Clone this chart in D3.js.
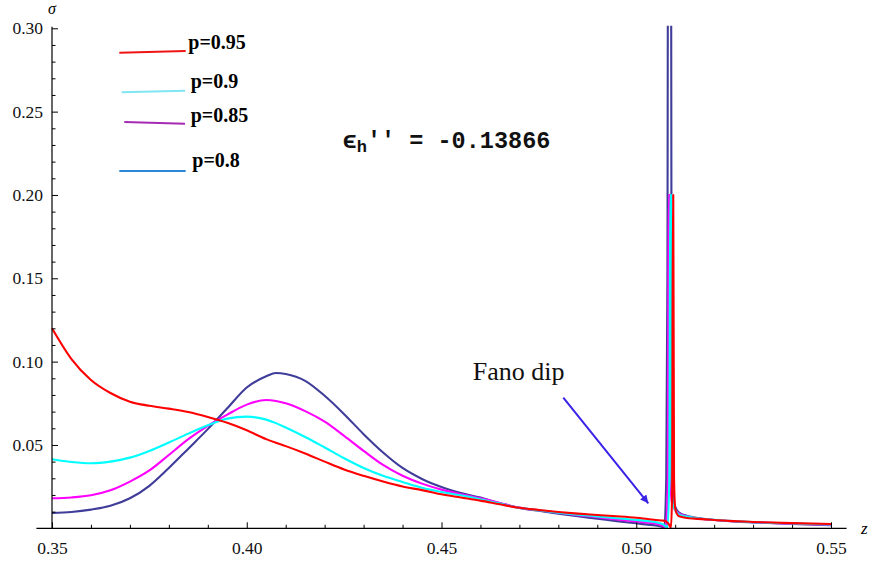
<!DOCTYPE html>
<html>
<head>
<meta charset="utf-8">
<script src="https://cdn.jsdelivr.net/npm/d3@7/dist/d3.min.js"></script>
<style>
  html, body { margin: 0; padding: 0; background: #fff; }
  svg { display: block; }
  .serif-tick text { font-family: "Liberation Serif", "Times New Roman", serif !important; font-size: 17.5px !important; fill: #111; }
</style>
</head>
<body>
<svg id="chart" width="870" height="565"></svg>
<script>
// Photon energy grid (smooth part before the resonance)
const zMain = [0.350, 0.355, 0.360, 0.365, 0.370, 0.375, 0.380, 0.385, 0.390, 0.395,
               0.400, 0.405, 0.4075, 0.410, 0.415, 0.420, 0.425, 0.430, 0.435, 0.440, 0.445,
               0.450, 0.455, 0.460, 0.465, 0.470, 0.475, 0.480, 0.485, 0.490, 0.495,
               0.500, 0.503, 0.505];
// Energy grid after the resonance
const zTail = [0.513, 0.515, 0.520, 0.525, 0.530, 0.540, 0.550];

// Cross section, smooth part
const sigmaMain_p95 = [0.1200, 0.1015, 0.0890, 0.0812, 0.0760, 0.0735, 0.0718, 0.0698, 0.0668, 0.0633,
                       0.0588, 0.0535, 0.0513, 0.0493, 0.0449, 0.0400, 0.0353, 0.0315, 0.0281, 0.0251, 0.0229,
                       0.0204, 0.0185, 0.0166, 0.0144, 0.0123, 0.0110, 0.0098, 0.0088, 0.0080, 0.0072,
                       0.0063, 0.0056, 0.0050];
const sigmaMain_p90 = [0.0414, 0.0398, 0.0390, 0.0400, 0.0424, 0.0464, 0.0515, 0.0568, 0.0618, 0.0658,
                       0.0670, 0.0652, 0.0631, 0.0605, 0.0548, 0.0485, 0.0420, 0.0362, 0.0315, 0.0278, 0.0243,
                       0.0218, 0.0198, 0.0174, 0.0148, 0.0123, 0.0108, 0.0094, 0.0082, 0.0071, 0.0060,
                       0.0050, 0.0043, 0.0037];
const sigmaMain_p85 = [0.0180, 0.0185, 0.0198, 0.0228, 0.0280, 0.0347, 0.0440, 0.0535, 0.0615, 0.0682,
                       0.0742, 0.0770, 0.0764, 0.0750, 0.0703, 0.0640, 0.0555, 0.0465, 0.0380, 0.0315, 0.0268,
                       0.0232, 0.0204, 0.0180, 0.0152, 0.0124, 0.0108, 0.0093, 0.0079, 0.0066, 0.0053,
                       0.0041, 0.0033, 0.0027];
const sigmaMain_p80 = [0.0092, 0.0098, 0.0112, 0.0135, 0.0180, 0.0255, 0.0362, 0.0478, 0.0595, 0.0720,
                       0.0845, 0.0912, 0.0932, 0.0926, 0.0885, 0.0795, 0.0685, 0.0565, 0.0455, 0.0362, 0.0296,
                       0.0248, 0.0212, 0.0184, 0.0150, 0.0122, 0.0105, 0.0088, 0.0072, 0.0058, 0.0043,
                       0.0030, 0.0022, 0.0017];

// Fano resonance (dip followed by the sharp peak)
const zRes_p95 = [0.5070, 0.5080, 0.5086, 0.5089, 0.5092, 0.5094, 0.5095, 0.5097, 0.5100, 0.5105, 0.5110];
const sigmaRes_p95 = [0.0046, 0.0035, 0.0015, 0.0002, 0.0200, 0.2000, 0.2000, 0.0300, 0.0120, 0.0085, 0.0072];
const zRes_p90 = [0.5070, 0.5080, 0.5085, 0.5087, 0.5089, 0.5091, 0.5094, 0.5100, 0.5110];
const sigmaRes_p90 = [0.0022, 0.0003, 0.0300, 0.2000, 0.2000, 0.0300, 0.0140, 0.0110, 0.0082];
const zRes_p85 = [0.5068, 0.5076, 0.5081, 0.5083, 0.5086, 0.5088, 0.5091, 0.5097, 0.5110];
const sigmaRes_p85 = [0.0015, 0.0002, 0.0300, 0.2000, 0.2000, 0.0300, 0.0160, 0.0120, 0.0088];
const zRes_p80 = [0.5065, 0.5072, 0.5077, 0.5080, 0.5083, 0.5088, 0.50905, 0.5092, 0.5095, 0.5100, 0.5110];
const sigmaRes_p80 = [0.0010, 0.0001, 0.0300, 0.1500, 0.6000, 0.6000, 0.1500, 0.0300, 0.0180, 0.0130, 0.0095];

// Cross section after the resonance
const sigmaTail_p95 = [0.0062, 0.0058, 0.0050, 0.0043, 0.0038, 0.0031, 0.0026];
const sigmaTail_p90 = [0.0070, 0.0062, 0.0051, 0.0043, 0.0037, 0.0029, 0.0023];
const sigmaTail_p85 = [0.0072, 0.0062, 0.0050, 0.0042, 0.0036, 0.0028, 0.0021];
const sigmaTail_p80 = [0.0075, 0.0064, 0.0050, 0.0041, 0.0035, 0.0026, 0.0019];

const seriesLabels = ["p=0.95", "p=0.9", "p=0.85", "p=0.8"];
const curveColors  = ["#ff0000", "#00ffff", "#ff00ff", "#3f3d99"];
const legendColors = ["#ee1414", "#7fe6f2", "#a42ab4", "#2a86d8"];

const xMajorTicks = [0.35, 0.40, 0.45, 0.50, 0.55];
const xTickLabels = ["0.35", "0.40", "0.45", "0.50", "0.55"];
const yMajorTicks = [0.05, 0.10, 0.15, 0.20, 0.25, 0.30];
const yTickLabels = ["0.05", "0.10", "0.15", "0.20", "0.25", "0.30"];

const annotationText = "Fano dip";
const parameterText = ["\u03f5", "h", "'' = -0.13866"];

// ---------------------------------------------------------------
const svg = d3.select("#chart");
const x = d3.scaleLinear().domain([0.35, 0.55]).range([52, 831]);
const y = d3.scaleLinear().domain([0, 0.30]).range([528.3, 28.3]);
const serif = "Liberation Serif, Times New Roman, serif";

function buildSeries(main, zr, sr, tail) {
  const pts = zMain.map((z, i) => [z, main[i]]);
  zr.forEach((z, i) => pts.push([z, sr[i]]));
  zTail.forEach((z, i) => pts.push([z, tail[i]]));
  return pts;
}
const series = [
  buildSeries(sigmaMain_p95, zRes_p95, sigmaRes_p95, sigmaTail_p95),
  buildSeries(sigmaMain_p90, zRes_p90, sigmaRes_p90, sigmaTail_p90),
  buildSeries(sigmaMain_p85, zRes_p85, sigmaRes_p85, sigmaTail_p85),
  buildSeries(sigmaMain_p80, zRes_p80, sigmaRes_p80, sigmaTail_p80)
];

const defs = svg.append("defs");
defs.append("clipPath").attr("id", "plotClip")
  .append("rect")
  .attr("x", x(0.346)).attr("y", y(0.3015))
  .attr("width", x(0.554) - x(0.346))
  .attr("height", y(-0.002) - y(0.3015));

const line = d3.line()
  .x(d => x(d[0]))
  .y(d => y(d[1]))
  .curve(d3.curveMonotoneX);

// draw p=0.8 first so that p=0.95 ends up on top
const curves = svg.append("g").attr("clip-path", "url(#plotClip)");
[3, 2, 1, 0].forEach(i => {
  curves.append("path")
    .datum(series[i])
    .attr("fill", "none")
    .attr("stroke", curveColors[i])
    .attr("stroke-width", 2.1)
    .attr("stroke-linejoin", "round")
    .attr("d", line);
});

// ---- axes ----
svg.append("line")
  .attr("x1", x(0.346)).attr("x2", x(0.554))
  .attr("y1", y(0)).attr("y2", y(0))
  .attr("stroke", "#000").attr("stroke-width", 1.2);
svg.append("line")
  .attr("x1", x(0.35)).attr("x2", x(0.35))
  .attr("y1", y(0)).attr("y2", y(0.301))
  .attr("stroke", "#000").attr("stroke-width", 1.2);

const xMinor = d3.range(36, 55).map(v => v / 100).filter(v => !xMajorTicks.some(m => Math.abs(m - v) < 1e-9));
const yMinor = d3.range(1, 30).map(v => v / 100).filter(v => !yMajorTicks.some(m => Math.abs(m - v) < 1e-9));

const gxMinor = svg.append("g").attr("transform", `translate(0,${y(0)})`)
  .call(d3.axisBottom(x).tickValues(xMinor).tickSizeInner(-3.5).tickSizeOuter(0).tickFormat(""));
const gx = svg.append("g").attr("class", "serif-tick").attr("transform", `translate(0,${y(0)})`)
  .call(d3.axisBottom(x).tickValues(xMajorTicks).tickSizeInner(-6).tickSizeOuter(0)
    .tickPadding(13).tickFormat((d, i) => xTickLabels[i]));
const gyMinor = svg.append("g").attr("transform", `translate(${x(0.35)},0)`)
  .call(d3.axisLeft(y).tickValues(yMinor).tickSizeInner(-3.5).tickSizeOuter(0).tickFormat(""));
const gy = svg.append("g").attr("class", "serif-tick").attr("transform", `translate(${x(0.35)},0)`)
  .call(d3.axisLeft(y).tickValues(yMajorTicks).tickSizeInner(-6).tickSizeOuter(0)
    .tickPadding(9).tickFormat((d, i) => yTickLabels[i]));

[gxMinor, gx, gyMinor, gy].forEach(sel => {
  sel.attr("font-family", serif).attr("font-size", 17.5);
  sel.select(".domain").remove();
  sel.selectAll(".tick line").attr("stroke", "#000").attr("stroke-width", 1);
  sel.selectAll(".tick text")
    .attr("fill", "#111")
    .attr("font-family", serif)
    .attr("font-size", 17.5);
});

// axis names
svg.append("text")
  .attr("x", x(0.35)).attr("y", 14)
  .attr("text-anchor", "middle")
  .attr("font-family", serif).attr("font-style", "italic").attr("font-size", 16)
  .text("\u03c3");
svg.append("text")
  .attr("x", 861).attr("y", 534)
  .attr("font-family", serif).attr("font-style", "italic").attr("font-size", 17)
  .text("z");

// ---- legend ----
const legendLayout = [
  { x1: 119.3, y1: 52.7, x2: 185.7, y2: 51.0, tx: 188.3, ty: 49.3 },
  { x1: 121.7, y1: 92.3, x2: 185.0, y2: 90.7, tx: 190.7, ty: 88.3 },
  { x1: 124.3, y1: 122.0, x2: 185.0, y2: 123.7, tx: 190.7, ty: 121.7 },
  { x1: 119.3, y1: 171.0, x2: 185.7, y2: 171.0, tx: 192.3, ty: 166.7 }
];
const legend = svg.append("g");
seriesLabels.forEach((label, i) => {
  const L = legendLayout[i];
  legend.append("line")
    .attr("x1", L.x1).attr("y1", L.y1).attr("x2", L.x2).attr("y2", L.y2)
    .attr("stroke", legendColors[i]).attr("stroke-width", 2);
  legend.append("text")
    .attr("x", L.tx).attr("y", L.ty)
    .attr("font-family", serif).attr("font-weight", "bold").attr("font-size", 20)
    .attr("fill", "#000")
    .text(label);
});

// ---- parameter label ----
const param = svg.append("text")
  .attr("x", 342.7).attr("y", 147.7)
  .attr("font-family", "Liberation Mono, Courier New, DejaVu Sans Mono, monospace")
  .attr("font-weight", "bold").attr("font-size", 23.5)
  .attr("fill", "#111");
param.append("tspan").text(parameterText[0]);
param.append("tspan").attr("dy", 4).attr("font-size", 17).text(parameterText[1]);
param.append("tspan").attr("dy", -4).text(parameterText[2]);

// ---- annotation ----
defs.append("marker")
  .attr("id", "arrowHead")
  .attr("viewBox", "0 0 10 10")
  .attr("refX", 10).attr("refY", 5)
  .attr("markerWidth", 11).attr("markerHeight", 8)
  .attr("markerUnits", "userSpaceOnUse")
  .attr("orient", "auto")
  .append("path").attr("d", "M0,0 L10,5 L0,10 Z").attr("fill", "#3b22e8");

svg.append("line")
  .attr("x1", x(0.48127)).attr("y1", y(0.07836))
  .attr("x2", x(0.50309)).attr("y2", y(0.0150))
  .attr("stroke", "#3b22e8").attr("stroke-width", 2)
  .attr("marker-end", "url(#arrowHead)");

svg.append("text")
  .attr("x", 472.7).attr("y", 380)
  .attr("font-family", serif).attr("font-size", 26)
  .attr("fill", "#111")
  .text(annotationText);
</script>
</body>
</html>
